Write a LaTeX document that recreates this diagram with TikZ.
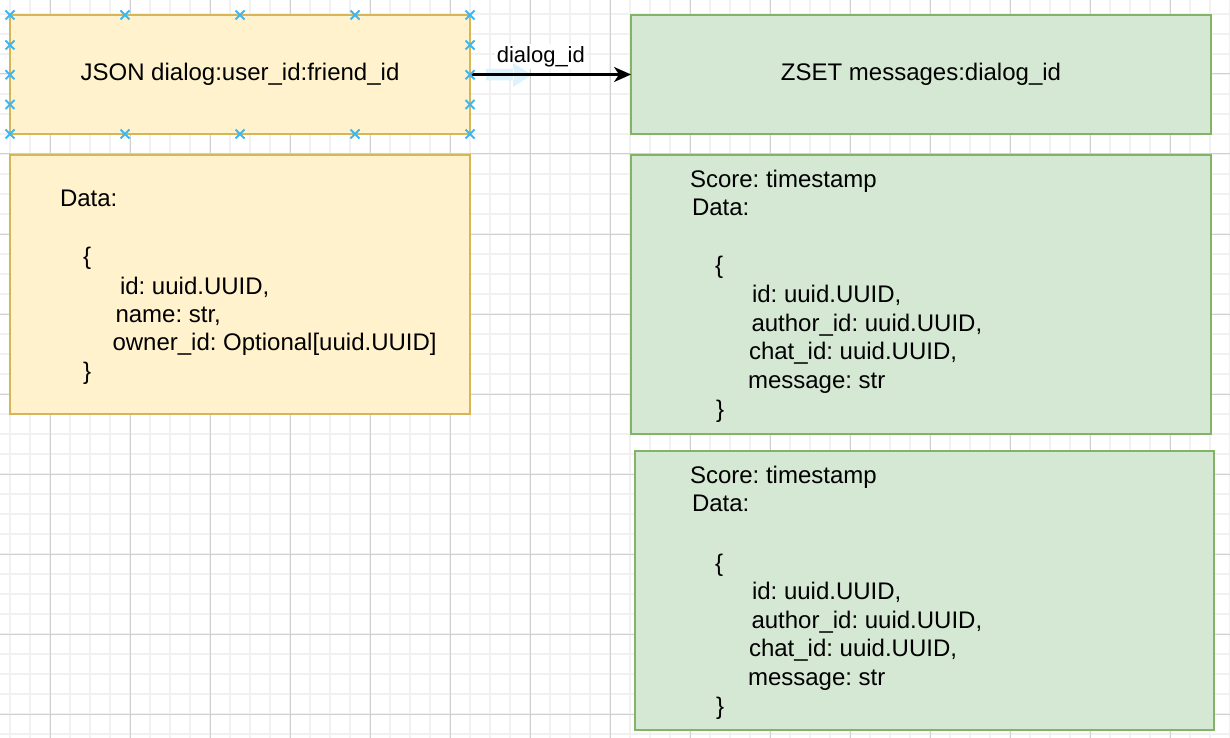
\documentclass[tikz,border=0pt]{standalone}
\usepackage{fontspec}
\setmainfont{Liberation Sans}
\usetikzlibrary{arrows.meta}
\frenchspacing
\definecolor{yfill}{HTML}{FFF2CC}
\definecolor{ystroke}{HTML}{D6B656}
\definecolor{gfill}{HTML}{D5E8D4}
\definecolor{gstroke}{HTML}{82B366}
\definecolor{gridminorc}{HTML}{F1F1F1}
\definecolor{gridmajorc}{HTML}{D0D0D0}
\definecolor{handlec}{HTML}{3DB6F2}
\definecolor{hoverc}{HTML}{DCF2FD}
\begin{document}
\begin{tikzpicture}[x=1pt,y=-1pt,
  minorline/.style={draw=gridminorc, line width=1.3pt},
  majorline/.style={draw=gridmajorc, line width=1pt},
  boxbase/.style={rectangle, line width=2pt, anchor=north west, inner sep=0pt, outer sep=0pt,
    font=\fontsize{24}{28.8}\selectfont},
  ybox/.style={boxbase, draw=ystroke, fill=yfill},
  gbox/.style={boxbase, draw=gstroke, fill=gfill},
  txt/.style={inner sep=0pt, outer sep=0pt, anchor=base west, font=\fontsize{24}{28.8}\selectfont},
  lbl/.style={inner sep=2pt, fill=white, font=\fontsize{22}{26}\selectfont},
  conn/.style={draw=black, line width=2.4pt, -{Stealth[length=17pt, width=15pt, inset=5pt]}},
  handle/.style={draw=handlec, line width=2pt},
  hover/.style={fill=hoverc, draw=none}
]
\useasboundingbox (0,0) rectangle (1230,738);
\fill[white] (0,0) rectangle (1230,738);
% grid
\foreach \x in {10,30,...,1230} \draw[minorline] (\x,0) -- (\x,738);
\foreach \y in {14,34,...,738} \draw[minorline] (0,\y) -- (1230,\y);
\foreach \x in {50,130,...,1230} \draw[majorline] (\x,0) -- (\x,738);
\foreach \y in {74,154,...,738} \draw[majorline] (0,\y) -- (1230,\y);

% boxes
\node[ybox, minimum width=460pt, minimum height=119pt] (json) at (10,15) {JSON dialog:user\_id:friend\_id};
\node[ybox, minimum width=460pt, minimum height=259pt] (jdata) at (10,155) {};
\node[gbox, minimum width=580pt, minimum height=119pt] (zset) at (631,15) {ZSET messages:dialog\_id};
\node[gbox, minimum width=580pt, minimum height=279pt] (m1) at (631,155) {};
\node[gbox, minimum width=579pt, minimum height=279pt] (m2) at (635,451) {};

% yellow data text
\node[txt] (j1) at (60,206) {Data:};
\node[txt] (j2) at (83,264.5) {\{};
\node[txt] (j3) at (120,294) {id: uuid.UUID,};
\node[txt] (j4) at (115.5,322) {name: str,};
\node[txt] (j5) at (112.5,350.5) {owner\_id: Optional[uuid.UUID]};
\node[txt] (j6) at (83,379) {\}};

% green message 1
\node[txt] (a1) at (690,187) {Score: timestamp};
\node[txt] (a2) at (692,215.8) {Data:};
\node[txt] (a3) at (715,273.4) {\{};
\node[txt] (a4) at (752,302.2) {id: uuid.UUID,};
\node[txt] (a5) at (751.5,331) {author\_id: uuid.UUID,};
\node[txt] (a6) at (749,359.8) {chat\_id: uuid.UUID,};
\node[txt] (a7) at (748,388.6) {message: str};
\node[txt] (a8) at (716,417.4) {\}};

% green message 2
\node[txt] (b1) at (690,483) {Score: timestamp};
\node[txt] (b2) at (692,511.8) {Data:};
\node[txt] (b3) at (715,571) {\{};
\node[txt] (b4) at (752,599.5) {id: uuid.UUID,};
\node[txt] (b5) at (751.5,628) {author\_id: uuid.UUID,};
\node[txt] (b6) at (749,656.5) {chat\_id: uuid.UUID,};
\node[txt] (b7) at (748,685) {message: str};
\node[txt] (b8) at (716,714.5) {\}};

% edge label
\path (json.east) -- (zset.west) node[lbl, pos=0.44, yshift=18pt] (lab) {dialog\_id};
% hover arrow hint
\fill[hover] (486,69) rectangle (514,80.5) (513,63) -- (532,74.75) -- (513,87) -- cycle;
% connector
\draw[conn] (json.east) -- (zset.west);

% connection handles
\foreach \x in {10,125,240,355,470} {
  \foreach \y in {15,134} {
    \draw[handle] (\x-4.5,\y-4.5) -- (\x+4.5,\y+4.5) (\x-4.5,\y+4.5) -- (\x+4.5,\y-4.5);
  }
}
\foreach \x in {10,470} {
  \foreach \y in {45,74.75,104.5} {
    \draw[handle] (\x-4.5,\y-4.5) -- (\x+4.5,\y+4.5) (\x-4.5,\y+4.5) -- (\x+4.5,\y-4.5);
  }
}
\end{tikzpicture}
\end{document}
